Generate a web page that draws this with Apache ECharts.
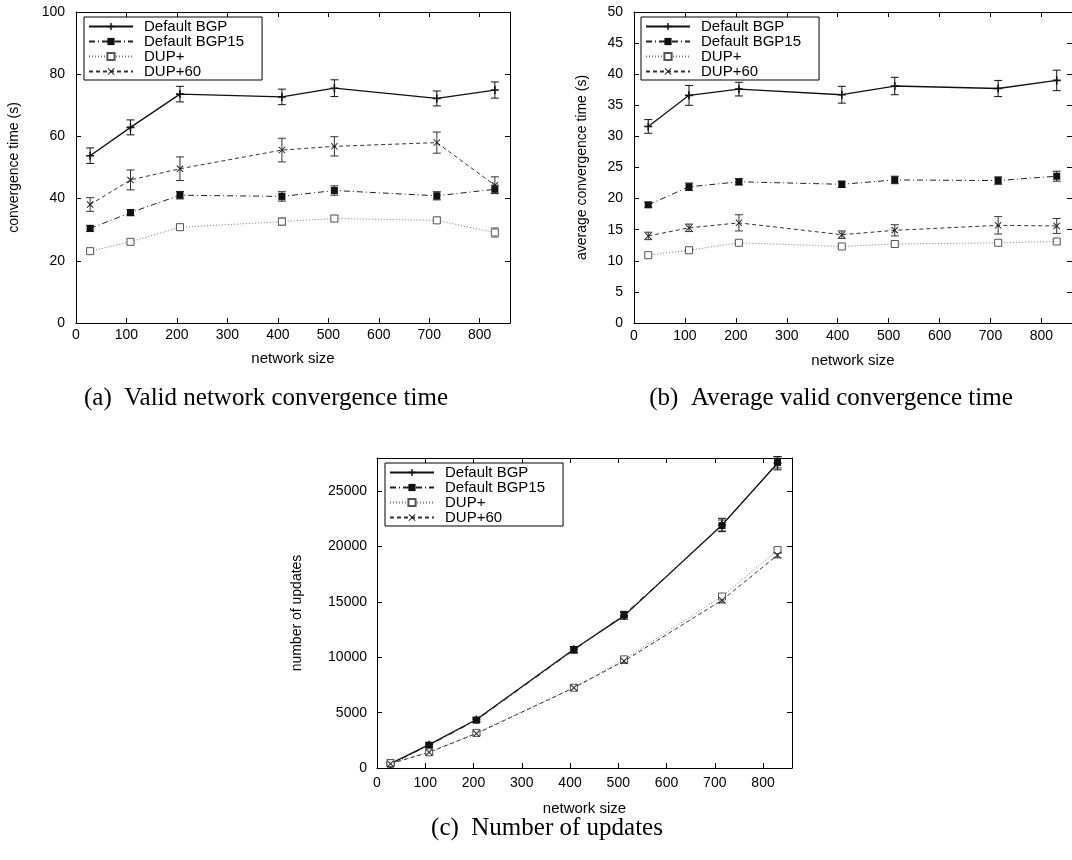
<!DOCTYPE html>
<html>
<head>
<meta charset="utf-8">
<script src="https://cdn.jsdelivr.net/npm/echarts@6/dist/echarts.min.js"></script>
<style>
html,body{margin:0;padding:0;background:#fff;}
#chart{width:1072px;height:860px;}
</style>
</head>
<body>
<div id="chart"></div>
<script>
// ---- data ----
const seriesNames = ['Default BGP', 'Default BGP15', 'DUP+', 'DUP+60'];
const networkSizes = [28, 108, 206, 408, 512, 715, 830];

// (a) valid network convergence time (s)
const aBGP    = [53.8, 62.9, 73.6, 72.7, 75.5, 72.2, 74.9];
const aBGP15  = [30.4, 35.5, 41.1, 40.7, 42.6, 40.9, 43.0];
const aDUP    = [23.1, 26.1, 30.8, 32.6, 33.6, 33.0, 29.1];
const aDUP60  = [38.1, 46.0, 49.6, 55.6, 56.8, 58.0, 44.3];
const aErrBGP   = [2.5, 2.4, 2.5, 2.5, 2.7, 2.4, 2.6];
const aErrBGP15 = [1.0, 1.0, 1.2, 1.5, 1.5, 1.3, 1.3];
const aErrDUP   = [0.8, 0.8, 1.0, 1.2, 1.0, 1.0, 1.5];
const aErrDUP60 = [2.2, 3.2, 3.8, 3.8, 3.1, 3.4, 2.7];

// (b) average valid convergence time (s)
const bBGP    = [31.6, 36.6, 37.6, 36.7, 38.1, 37.7, 39.0];
const bBGP15  = [19.0, 21.9, 22.7, 22.3, 23.0, 22.9, 23.6];
const bDUP    = [10.9, 11.7, 12.9, 12.3, 12.7, 12.9, 13.1];
const bDUP60  = [14.0, 15.3, 16.1, 14.2, 14.9, 15.7, 15.6];
const bErrBGP   = [1.1, 1.6, 1.1, 1.35, 1.4, 1.3, 1.65];
const bErrBGP15 = [0.4, 0.6, 0.5, 0.5, 0.6, 0.6, 0.8];
const bErrDUP   = [0.2, 0.3, 0.3, 0.3, 0.4, 0.4, 0.4];
const bErrDUP60 = [0.6, 0.6, 1.3, 0.6, 0.9, 1.4, 1.2];

// (c) number of updates
const cBGP    = [390, 2110, 4380, 10720, 13740, 21950, 27530];
const cBGP15  = [350, 2050, 4320, 10650, 13850, 21900, 27600];
const cDUP    = [450, 1420, 3170, 7250, 9810, 15490, 19680];
const cDUP60  = [390, 1420, 3110, 7250, 9660, 15160, 19230];
const cErrBGP   = [150, 200, 200, 250, 300, 600, 600];
const cErrBGP15 = [150, 200, 200, 250, 300, 500, 500];
const cErrDUP   = [100, 150, 150, 200, 200, 250, 250];
const cErrDUP60 = [100, 150, 150, 200, 200, 250, 250];

// tick settings
const xTickStep = 100;
const captions = ['(a)  Valid network convergence time', '(b)  Average valid convergence time', '(c)  Number of updates'];
const yNames = ['convergence time (s)', 'average convergence time (s)', 'number of updates'];
const xName = 'network size';

// ---- styles ----
const FONT = 'Liberation Sans, Arial, Helvetica, sans-serif';
const plusPath = 'path://M4,0h2v4h4v2h-4v4h-2v-4h-4v-2h4z';
const xPath = 'path://M1,0L5,4L9,0L10,1L6,5L10,9L9,10L5,6L1,10L0,9L4,5L0,1Z';
const styles = [
  {color:'#111', line:{color:'#111', width:1.3, type:'solid'}, symbol:plusPath, size:8, item:{color:'#111'}},
  {color:'#222', line:{color:'#222', width:1, type:[6,3,1,3]}, symbol:'rect', size:7, item:{color:'#111'}},
  {color:'#777', line:{color:'#777', width:1, type:[1,2]}, symbol:'rect', size:7, item:{color:'#fff', borderColor:'#555', borderWidth:1}},
  {color:'#333', line:{color:'#333', width:1, type:[4,3]}, symbol:xPath, size:7, item:{color:'#222'}}
];

const panels = [
  {grid:{left:76, top:12, width:434, height:311}, xmax:860, ymax:100, yint:20,
   yNameGap:55, xNameGap:28, xLabelMargin:5, yLabelMargin:11,
   vals:[aBGP,aBGP15,aDUP,aDUP60], errs:[aErrBGP,aErrBGP15,aErrDUP,aErrDUP60],
   legend:{left:84, top:17}, caption:{x:266, y:398}},
  {grid:{left:634, top:12, width:441, height:311}, xmax:860, ymax:50, yint:5,
   yNameGap:45, xNameGap:30, xLabelMargin:6, yLabelMargin:11,
   vals:[bBGP,bBGP15,bDUP,bDUP60], errs:[bErrBGP,bErrBGP15,bErrDUP,bErrDUP60],
   legend:{left:641, top:17}, caption:{x:831, y:398}},
  {grid:{left:377, top:458, width:415, height:310}, xmax:860, ymax:28000, yint:5000,
   yNameGap:73, xNameGap:33, xLabelMargin:8, yLabelMargin:10,
   vals:[cBGP,cBGP15,cDUP,cDUP60], errs:[cErrBGP,cErrBGP15,cErrDUP,cErrDUP60],
   legend:{left:385, top:463}, caption:{x:547, y:828}}
];

const option = {
  backgroundColor:'#fff',
  animation:false,
  grid:[], xAxis:[], yAxis:[], series:[], legend:[], graphic:[]
};

const axisLine = {show:true, onZero:false, lineStyle:{color:'#000', width:1}};
const tick = {show:true, inside:true, length:5, lineStyle:{color:'#000'}};

panels.forEach((p, k) => {
  option.grid.push(p.grid);
  const xb = option.xAxis.length;
  option.xAxis.push({
    gridIndex:k, type:'value', position:'bottom', min:0, max:p.xmax, interval:xTickStep,
    axisLine, axisTick:tick, splitLine:{show:false},
    axisLabel:{color:'#000', fontFamily:FONT, fontSize:14, margin:p.xLabelMargin, showMaxLabel:false,
               formatter:(v) => String(v)},
    name:xName, nameLocation:'middle', nameGap:p.xNameGap,
    nameTextStyle:{color:'#000', fontFamily:FONT, fontSize:15}
  });
  option.xAxis.push({
    gridIndex:k, type:'value', position:'top', min:0, max:p.xmax, interval:xTickStep,
    axisLine, axisTick:tick, axisLabel:{show:false}, splitLine:{show:false}
  });
  const yb = option.yAxis.length;
  option.yAxis.push({
    gridIndex:k, type:'value', position:'left', min:0, max:p.ymax, interval:p.yint,
    axisLine, axisTick:tick, splitLine:{show:false},
    axisLabel:{color:'#000', fontFamily:FONT, fontSize:14, margin:p.yLabelMargin,
               showMaxLabel:(p.ymax % p.yint === 0), formatter:(v) => String(v)},
    name:yNames[k], nameLocation:'middle', nameGap:p.yNameGap, nameRotate:90,
    nameTextStyle:{color:'#000', fontFamily:FONT, fontSize:14}
  });
  option.yAxis.push({
    gridIndex:k, type:'value', position:'right', min:0, max:p.ymax, interval:p.yint,
    axisLine, axisTick:tick, axisLabel:{show:false}, splitLine:{show:false}
  });

  p.vals.forEach((vals, s) => {
    const st = styles[s];
    const errData = networkSizes.map((x, i) => [x, vals[i], p.errs[s][i]]);
    option.series.push({
      type:'custom', name:'err'+k+'_'+s, xAxisIndex:xb, yAxisIndex:yb, z:1,
      data:errData, silent:true,
      renderItem:function(params, api){
        const x = api.value(0), y = api.value(1), e = api.value(2);
        const lo = api.coord([x, y - e]);
        const hi = api.coord([x, y + e]);
        const w = 4;
        const ls = {stroke:st.line.color, lineWidth:1};
        return {type:'group', children:[
          {type:'line', shape:{x1:lo[0], y1:lo[1], x2:hi[0], y2:hi[1]}, style:ls},
          {type:'line', shape:{x1:lo[0]-w, y1:lo[1], x2:lo[0]+w, y2:lo[1]}, style:ls},
          {type:'line', shape:{x1:hi[0]-w, y1:hi[1], x2:hi[0]+w, y2:hi[1]}, style:ls}
        ]};
      }
    });
    option.series.push({
      type:'line', name:seriesNames[s], xAxisIndex:xb, yAxisIndex:yb, z:2,
      data:networkSizes.map((x, i) => [x, vals[i]]),
      symbol:st.symbol, symbolSize:st.size, showSymbol:true,
      lineStyle:st.line, itemStyle:st.item, color:st.color
    });
  });

  option.legend.push({
    orient:'vertical', left:p.legend.left, top:p.legend.top,
    data:seriesNames, selectedMode:false,
    borderColor:'#000', borderWidth:1, borderRadius:0,
    padding:[2,18,1,4], itemGap:0, itemWidth:44, itemHeight:9,
    textStyle:{color:'#000', fontFamily:FONT, fontSize:15, lineHeight:15, padding:[0,0,0,6]}
  });

  option.graphic.push({
    type:'text', x:p.caption.x, y:p.caption.y,
    style:{text:captions[k], fill:'#000', font:'25px "Liberation Serif", "Times New Roman", serif',
           textAlign:'center', textVerticalAlign:'middle'}
  });
});

const chart = echarts.init(document.getElementById('chart'), null, {renderer:'canvas'});
chart.setOption(option);
</script>
</body>
</html>
